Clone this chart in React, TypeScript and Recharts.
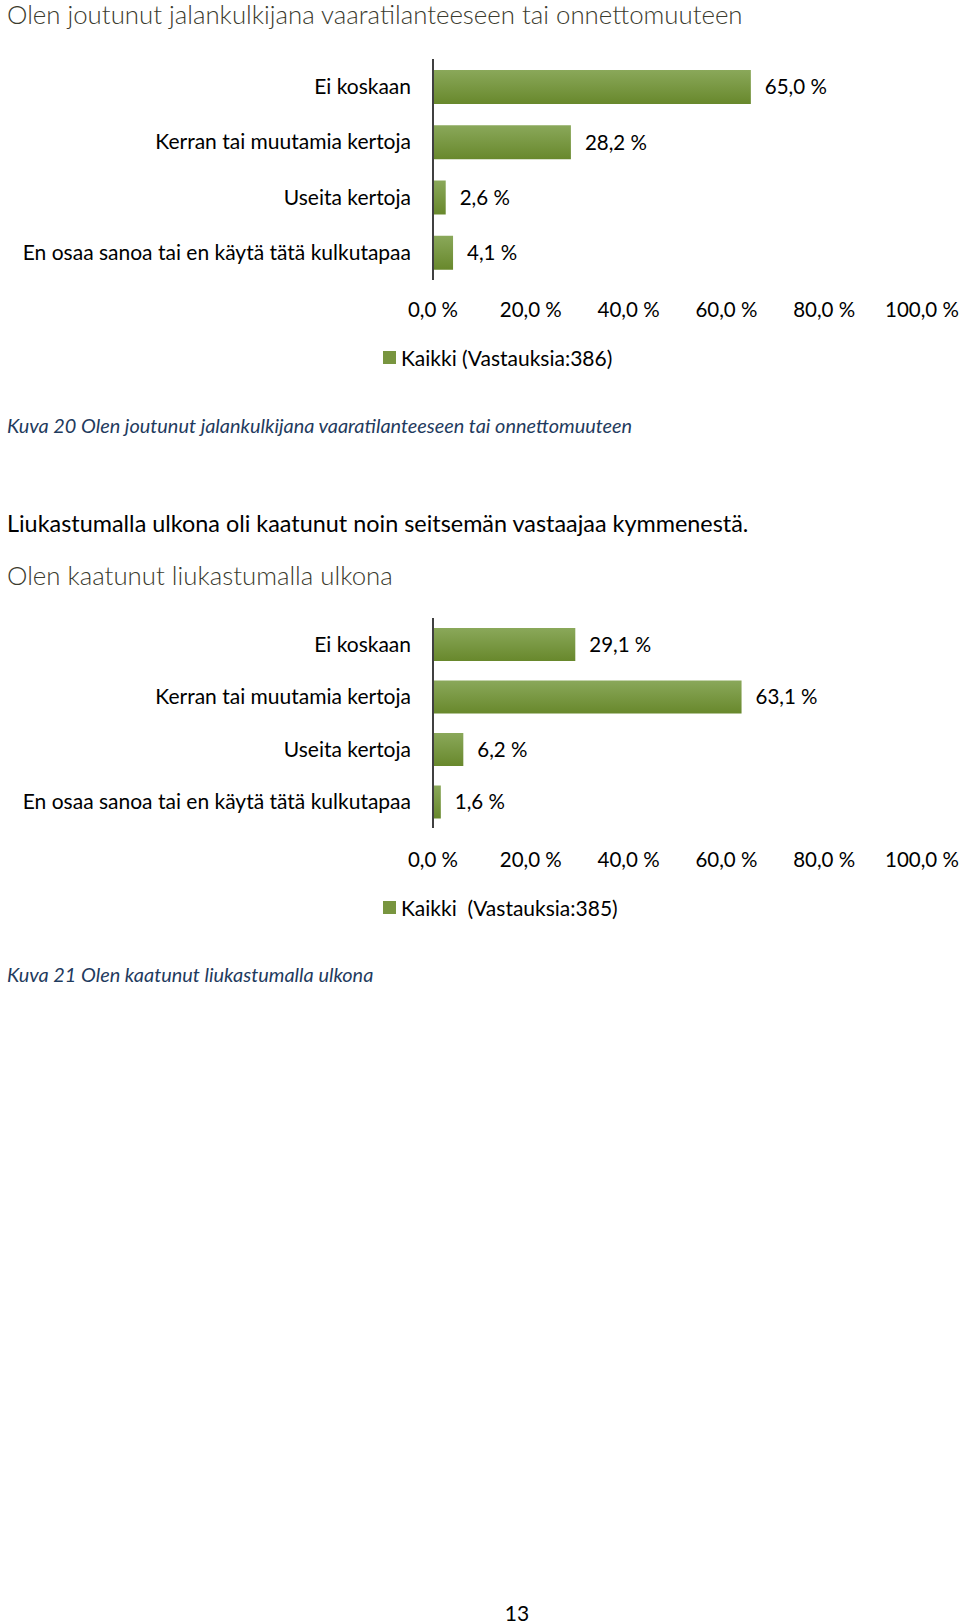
import { BarChart, Bar, XAxis, YAxis, LabelList, Legend } from 'recharts';

const categories = [
  'Ei koskaan',
  'Kerran tai muutamia kertoja',
  'Useita kertoja',
  'En osaa sanoa tai en käytä tätä kulkutapaa',
];
const dangerValues = [65.0, 28.2, 2.6, 4.1];
const fallValues = [29.1, 63.1, 6.2, 1.6];
const xTicks = [0, 20, 40, 60, 80, 100];

const FONT = 'Lato, "Open Sans", sans-serif';
const fmt = (v: number) => `${v.toFixed(1).replace('.', ',')} %`;

const buildRows = (values: number[]) => categories.map((c, i) => ({ category: c, value: values[i] }));

const LegendBox = ({ text }: { text: string }) => (
  <div style={{ display: 'flex', alignItems: 'center', height: 24, fontSize: 21, color: '#000', whiteSpace: 'pre' }}>
    <span style={{ display: 'inline-block', width: 13, height: 13, background: '#78953f', marginRight: 5 }} />
    {text}
  </div>
);

interface ChartProps {
  values: number[];
  legendText: string;
  height: number;
  marginTop: number;
  marginBottom: number;
  barSize: number;
  legendTop: number;
  xTickMargin: number;
  id: string;
}

function SurveyChart({ values, legendText, height, marginTop, marginBottom, barSize, legendTop, xTickMargin, id }: ChartProps) {
  return (
    <BarChart
      width={960}
      height={height}
      data={buildRows(values)}
      layout="vertical"
      margin={{ top: marginTop, right: 38, bottom: marginBottom, left: 0 }}
    >
      <defs>
        <linearGradient id={id} x1="0" y1="0" x2="0" y2="1">
          <stop offset="0%" stopColor="#8aa85a" />
          <stop offset="100%" stopColor="#68882c" />
        </linearGradient>
      </defs>
      <XAxis
        type="number"
        domain={[0, 100]}
        ticks={xTicks}
        tickFormatter={fmt}
        axisLine={false}
        tickLine={false}
        tickMargin={xTickMargin}
        height={30}
        tick={{ fill: '#000', fontSize: 20.5 }}
        interval={0}
      />
      <YAxis
        type="category"
        dataKey="category"
        width={433}
        axisLine={{ stroke: '#404040', strokeWidth: 2 }}
        tickLine={false}
        tickMargin={16}
        tick={{ fill: '#000', fontSize: 21 }}
        interval={0}
      />
      <Legend
        verticalAlign="bottom"
        height={24}
        wrapperStyle={{ left: 383, top: legendTop, bottom: 'auto', width: 320 }}
        content={() => <LegendBox text={legendText} />}
      />
      <Bar dataKey="value" fill={`url(#${id})`} barSize={barSize} isAnimationActive={false}>
        <LabelList dataKey="value" position="right" offset={14} formatter={(v: any) => fmt(Number(v))} fill="#000" fontSize={20.5} />
      </Bar>
    </BarChart>
  );
}

const textBase: React.CSSProperties = { position: 'absolute', left: 7, whiteSpace: 'nowrap', fontFamily: FONT };

export default function App() {
  return (
    <div style={{ position: 'absolute', left: 0, top: 0, width: 960, height: 1624, background: '#fff', fontFamily: FONT, overflow: 'hidden' }}>
      <div style={{ ...textBase, top: -1, lineHeight: '30px', fontSize: 25.8, fontWeight: 300, color: '#3b3b2e' }}>
        Olen joutunut jalankulkijana vaaratilanteeseen tai onnettomuuteen
      </div>
      <div style={{ position: 'absolute', left: 0, top: 0 }}>
        <SurveyChart
          values={dangerValues}
          legendText="Kaikki (Vastauksia:386)"
          height={380}
          marginTop={59}
          marginBottom={46}
          barSize={34}
          legendTop={345}
          xTickMargin={16}
          id="gradA"
        />
      </div>
      <div style={{ ...textBase, top: 413, lineHeight: '24px', fontSize: 19.9, fontStyle: 'italic', color: '#1f3b5e' }}>
        Kuva 20 Olen joutunut jalankulkijana vaaratilanteeseen tai onnettomuuteen
      </div>
      <div style={{ ...textBase, top: 509, lineHeight: '28px', fontSize: 23.4, color: '#000' }}>
        Liukastumalla ulkona oli kaatunut noin seitsemän vastaajaa kymmenestä.
      </div>
      <div style={{ ...textBase, top: 560, lineHeight: '30px', fontSize: 25.8, fontWeight: 300, color: '#3b3b2e' }}>
        Olen kaatunut liukastumalla ulkona
      </div>
      <div style={{ position: 'absolute', left: 0, top: 560 }}>
        <SurveyChart
          values={fallValues}
          legendText="Kaikki  (Vastauksia:385)"
          height={380}
          marginTop={58}
          marginBottom={58}
          barSize={33}
          legendTop={335}
          xTickMargin={18}
          id="gradB"
        />
      </div>
      <div style={{ ...textBase, top: 962, lineHeight: '24px', fontSize: 19.9, fontStyle: 'italic', color: '#1f3b5e' }}>
        Kuva 21 Olen kaatunut liukastumalla ulkona
      </div>
      <div style={{ position: 'absolute', left: 497, top: 1600, width: 40, textAlign: 'center', lineHeight: '26px', fontSize: 21, color: '#000', fontFamily: FONT }}>
        13
      </div>
    </div>
  );
}
